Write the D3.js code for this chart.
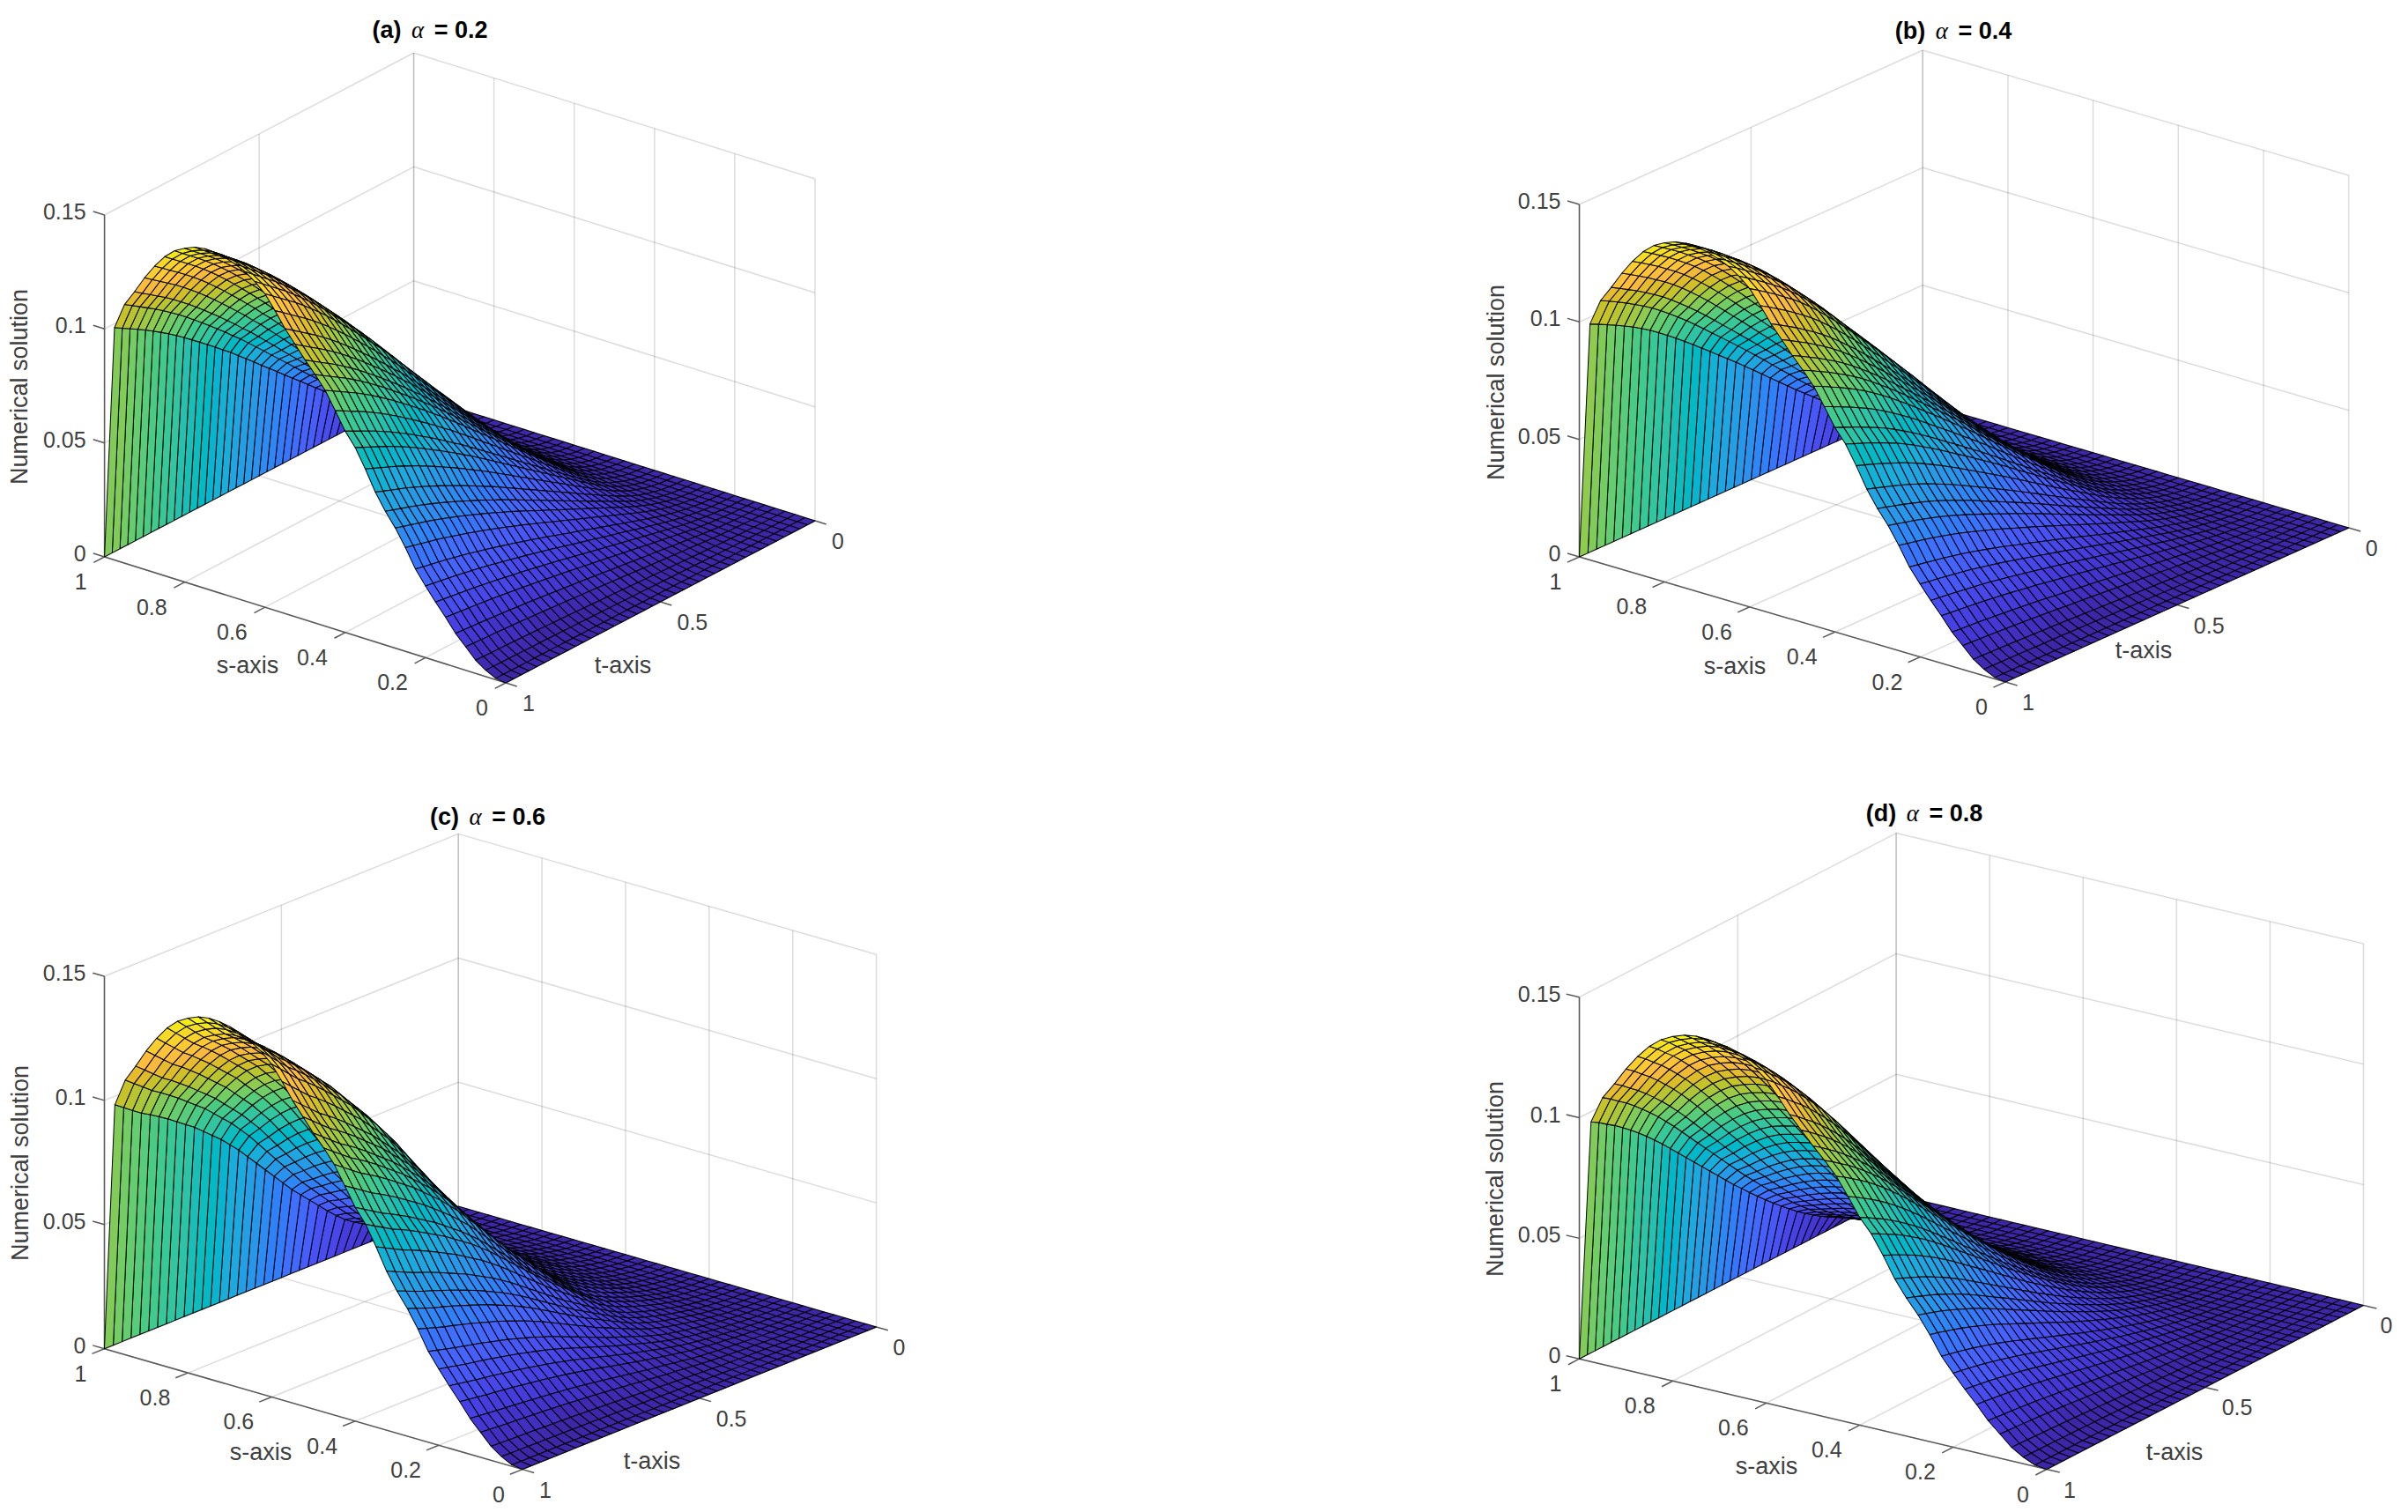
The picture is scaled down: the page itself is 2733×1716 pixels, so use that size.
<!DOCTYPE html>
<html><head><meta charset="utf-8">
<script src="https://cdn.jsdelivr.net/npm/d3@7/dist/d3.min.js"></script>
<style>html,body{margin:0;padding:0;background:#fff}svg{display:block}</style>
</head><body><div id="chart"></div>
<script>
// ---- data ----
const sGrid = [0,.025,.05,.075,.1,.125,.15,.175,.2,.225,.25,.275,.3,.325,.35,.375,.4,.425,.45,.475,.5,.525,.55,.575,.6,.625,.65,.675,.7,.725,.75,.775,.8,.825,.85,.875,.9,.925,.95,.975,1];
const tGrid = sGrid;
// height along the t = 1 edge
const edgeProfile = [0,.0006,.0028,.0058,.0103,.0148,.0205,.0258,.0315,.0375,.0455,.0527,.0587,.0657,.0745,.0825,.0883,.096,.1035,.109,.114,.1195,.125,.1315,.1375,.1415,.1445,.1465,.148,.1488,.149,.1483,.1465,.144,.14,.1345,.128,.1205,.1135,.102,0];
// relative fall-off towards t = 0, one list per panel
const decayA = [0,.002,.007,.015,.027,.042,.06,.082,.107,.135,.165,.195,.226,.257,.288,.32,.351,.382,.413,.445,.476,.507,.539,.57,.601,.632,.66,.69,.718,.746,.773,.8,.826,.851,.875,.898,.92,.94,.96,.98,1];
const decayB = [0,.002,.006,.013,.023,.036,.052,.071,.092,.116,.142,.17,.2,.231,.263,.294,.325,.357,.39,.422,.455,.488,.52,.552,.583,.614,.645,.675,.706,.736,.765,.793,.82,.846,.87,.892,.912,.932,.95,.968,.985];
const decayC = [0,.001,.003,.007,.012,.018,.027,.037,.05,.063,.078,.094,.112,.133,.157,.187,.22,.255,.29,.325,.36,.4,.44,.48,.52,.56,.6,.635,.67,.7,.73,.76,.785,.81,.835,.858,.88,.9,.925,.95,.975];
const decayD = [0,.001,.003,.006,.011,.018,.027,.039,.055,.07,.088,.108,.13,.153,.178,.205,.233,.262,.292,.323,.355,.388,.42,.455,.49,.525,.56,.595,.63,.665,.7,.735,.768,.8,.83,.858,.885,.91,.932,.955,.975];
const sTicks = [0,.2,.4,.6,.8,1];
const tTicks = [0,.5,1];
const zTicks = [0,.05,.1,.15];
const panelLetters = ["a","b","c","d"];
const alphaValues = ["0.2","0.4","0.6","0.8"];
const decays = [decayA,decayB,decayC,decayD];
const parula = [[.2422,.1504,.6603],[.2504,.165,.7076],[.2578,.1818,.7511],[.2647,.1978,.7952],[.2706,.2147,.8364],[.2751,.2342,.871],[.2783,.2559,.8991],[.2803,.2782,.9221],[.2813,.3006,.9414],[.281,.3228,.9579],[.2795,.3447,.9717],[.276,.3667,.9829],[.2699,.3892,.9906],[.2602,.4123,.9952],[.244,.4358,.9988],[.2206,.4603,.9973],[.1963,.4847,.9892],[.1834,.5074,.9798],[.1786,.5289,.9682],[.1764,.5499,.952],[.1687,.5703,.9359],[.154,.5902,.9218],[.146,.6091,.9079],[.138,.6276,.8973],[.1248,.6459,.8883],[.1113,.6635,.8763],[.0952,.6798,.8598],[.0689,.6948,.8394],[.0297,.7082,.8163],[.0036,.7203,.7917],[.0067,.7312,.766],[.0433,.7411,.7394],[.0964,.75,.712],[.1408,.7584,.6842],[.1717,.767,.6554],[.1938,.7758,.6251],[.2161,.7843,.5923],[.247,.7918,.5567],[.2906,.7973,.5188],[.3406,.8008,.4789],[.3909,.8029,.4354],[.4456,.8024,.3909],[.5044,.7993,.348],[.5616,.7942,.3045],[.6174,.7876,.2612],[.672,.7793,.2227],[.7242,.7698,.191],[.7738,.7598,.1646],[.8203,.7498,.1535],[.8634,.7406,.1596],[.9035,.733,.1774],[.9393,.7288,.21],[.9728,.7298,.2394],[.9956,.7434,.2371],[.997,.7659,.2199],[.9952,.7861,.1991],[.9892,.8085,.1778],[.9786,.8282,.1633],[.9676,.8513,.1477],[.961,.8741,.1318],[.9597,.8987,.1148],[.9628,.9236,.1006],[.9691,.9523,.0878],[.9769,.9839,.0805]].map(c=>d3.rgb(c[0]*255,c[1]*255,c[2]*255).formatHex());

// ---- layout ----
const layouts = [
 {left:[118.6,632],bottom:[574,775],right:[925,591],h:388,title:[488,34],sLab:[281,755],tLab:[707,755],zLab:[22,439]},
 {left:[1792.5,632],bottom:[2276,774],right:[2665.7,599],h:400,title:[2217,35],sLab:[1969,756],tLab:[2433,738],zLab:[1698,434]},
 {left:[118.5,1530.7],bottom:[592.9,1667.6],right:[994.6,1506],h:422.7,title:[553.5,927],sLab:[296,1648],tLab:[740,1658],zLab:[23,1320]},
 {left:[1792.5,1542.2],bottom:[2322.9,1667.5],right:[2682.5,1481.4],h:410.5,title:[2184,923],sLab:[2005,1664],tLab:[2468,1648],zLab:[1697,1338]}
];
const W=2733,H=1716, FONT='"Liberation Sans",Arial,sans-serif', TICKFS=25, INK='#404040';
const svg=d3.select('#chart').append('svg').attr('width',W).attr('height',H).attr('viewBox',`0 0 ${W} ${H}`);
const line=d3.line();

layouts.forEach((L,p)=>{
  const g=svg.append('g');
  const xS=d3.scaleLinear().domain([1,0]).range([0,L.bottom[0]-L.left[0]]);
  const yS=d3.scaleLinear().domain([1,0]).range([0,L.bottom[1]-L.left[1]]);
  const xT=d3.scaleLinear().domain([1,0]).range([0,L.right[0]-L.bottom[0]]);
  const yT=d3.scaleLinear().domain([1,0]).range([0,L.right[1]-L.bottom[1]]);
  const yZ=d3.scaleLinear().domain([0,.15]).range([0,-L.h]);
  const P=(s,t,z)=>[L.left[0]+xS(s)+xT(t), L.left[1]+yS(s)+yT(t)+yZ(z)];
  const seg=(a,b,stroke,w,op)=>g.append('path').attr('d',line([a,b])).attr('fill','none').attr('stroke',stroke).attr('stroke-width',w).attr('stroke-opacity',op);
  const GRID='#262626', GW=1.5, GO=.16;
  zTicks.forEach(z=>{ seg(P(1,1,z),P(1,0,z),GRID,GW,GO); seg(P(1,0,z),P(0,0,z),GRID,GW,GO); });
  sTicks.forEach(s=>{ seg(P(s,0,0),P(s,0,.15),GRID,GW,GO); seg(P(s,1,0),P(s,0,0),GRID,GW,GO); });
  tTicks.forEach(t=>{ seg(P(1,t,0),P(1,t,.15),GRID,GW,GO); seg(P(1,t,0),P(0,t,0),GRID,GW,GO); });
  const AX='#5a5a5a', AW=1.5;
  seg(P(1,1,0),P(1,1,.15),AX,AW,1); seg(P(1,1,0),P(0,1,0),AX,AW,1); seg(P(0,1,0),P(0,0,0),AX,AW,1);
  const lab=(x,y,txt,anchor)=>g.append('text').attr('x',x).attr('y',y).attr('text-anchor',anchor).attr('dominant-baseline','central').attr('font-family',FONT).attr('font-size',TICKFS).attr('fill',INK).text(txt);
  zTicks.forEach(z=>{const a=P(1,1,z),b=P(1.028,1,z); seg(a,b,AX,AW,1); lab(a[0]-21,a[1]-4,String(z),'end');});
  sTicks.forEach(s=>{const a=P(s,1,0),b=P(s,1.035,0); seg(a,b,AX,AW,1); lab(a[0]-20,a[1]+28,String(s),'end');});
  tTicks.forEach(t=>{const a=P(0,t,0),b=P(-.028,t,0); seg(a,b,AX,AW,1); lab(a[0]+19,a[1]+23,String(t),'start');});
  const Z=sGrid.map((s,i)=>tGrid.map((t,j)=>edgeProfile[i]*decays[p][j]));
  const zmax=d3.max(Z,r=>d3.max(r));
  const color=d3.scaleQuantize().domain([0,zmax]).range(parula);
  const cells=[];
  for(let i=sGrid.length-2;i>=0;i--) for(let j=0;j<tGrid.length-1;j++){
    cells.push({pts:[P(sGrid[i],tGrid[j],Z[i][j]),P(sGrid[i+1],tGrid[j],Z[i+1][j]),P(sGrid[i+1],tGrid[j+1],Z[i+1][j+1]),P(sGrid[i],tGrid[j+1],Z[i][j+1])],c:Z[i][j]});
  }
  g.append('g').selectAll('path').data(cells).join('path')
    .attr('d',d=>line(d.pts)+'Z').attr('fill',d=>color(d.c)).attr('stroke','#000').attr('stroke-width',1.05).attr('stroke-opacity',.95).attr('stroke-linejoin','round');
  const axisLab=(pos,txt,rot)=>g.append('text').attr('transform',`translate(${pos[0]},${pos[1]})`+(rot?' rotate(-90)':'')).attr('text-anchor','middle').attr('dominant-baseline','central').attr('font-family',FONT).attr('font-size',27).attr('fill',INK).text(txt);
  axisLab(L.sLab,'s-axis',false); axisLab(L.tLab,'t-axis',false); axisLab(L.zLab,'Numerical solution',true);
  const tt=g.append('text').attr('x',L.title[0]).attr('y',L.title[1]).attr('text-anchor','middle').attr('dominant-baseline','central').attr('font-family',FONT).attr('font-size',27).attr('font-weight','bold').attr('fill','#000');
  tt.append('tspan').text(`(${panelLetters[p]}) `);
  tt.append('tspan').attr('font-family','"Liberation Serif",serif').attr('font-style','italic').attr('font-weight','normal').attr('dx',4).text('α');
  tt.append('tspan').attr('dx',4).text(` = ${alphaValues[p]}`);
});
</script></body></html>
